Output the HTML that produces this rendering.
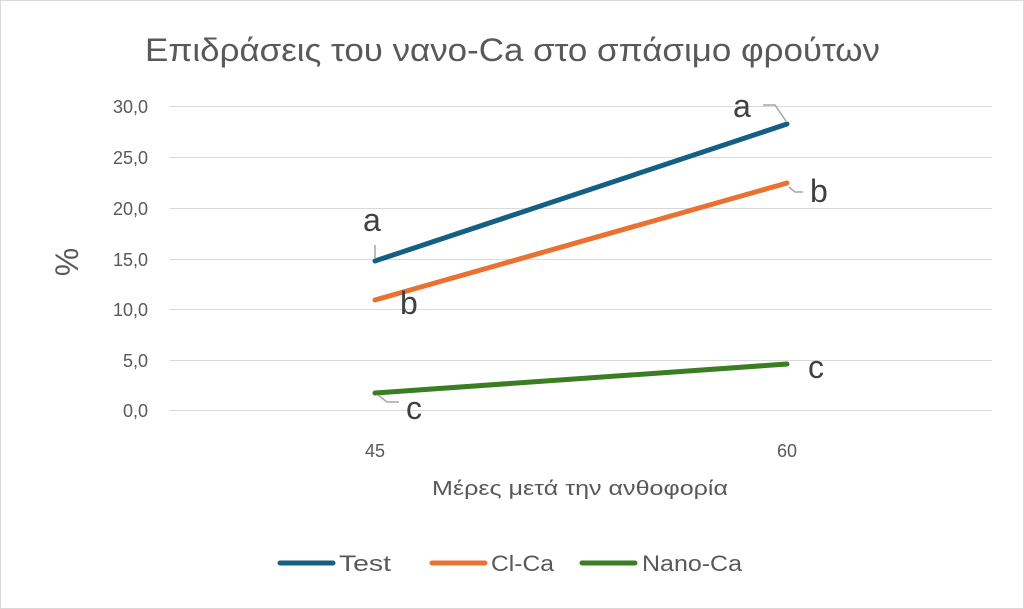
<!DOCTYPE html>
<html><head><meta charset="utf-8"><style>
html,body{margin:0;padding:0;background:#fff}
svg{display:block;font-family:"Liberation Sans","DejaVu Sans",sans-serif}
</style></head><body>
<svg width="1024" height="609" viewBox="0 0 1024 609">
<rect x="0.5" y="0.5" width="1023" height="608" fill="#fff" stroke="#d9d9d9"/>
<text x="145" y="61" font-size="32" fill="#595959" textLength="735" lengthAdjust="spacingAndGlyphs">Επιδράσεις του νανο-Ca στο σπάσιμο φρούτων</text>
<g stroke="#d9d9d9" stroke-width="1">
<line x1="170" x2="992" y1="106.5" y2="106.5"/>
<line x1="170" x2="992" y1="157.5" y2="157.5"/>
<line x1="170" x2="992" y1="208.5" y2="208.5"/>
<line x1="170" x2="992" y1="259.5" y2="259.5"/>
<line x1="170" x2="992" y1="309.5" y2="309.5"/>
<line x1="170" x2="992" y1="360.5" y2="360.5"/>
<line x1="170" x2="992" y1="410.5" y2="410.5"/>
</g>
<g font-size="18" fill="#595959" text-anchor="end">
<text x="148" y="113">30,0</text>
<text x="148" y="164">25,0</text>
<text x="148" y="215">20,0</text>
<text x="148" y="266">15,0</text>
<text x="148" y="316">10,0</text>
<text x="148" y="367">5,0</text>
<text x="148" y="417">0,0</text>
</g>
<text transform="translate(78,262) rotate(-90)" text-anchor="middle" font-size="32" fill="#595959">%</text>
<g font-size="18" fill="#595959" text-anchor="middle">
<text x="375" y="457">45</text>
<text x="787" y="457">60</text>
</g>
<text x="432" y="495" font-size="20" fill="#595959" textLength="296" lengthAdjust="spacingAndGlyphs">Μέρες μετά την ανθοφορία</text>
<g stroke-linecap="round" stroke-width="5" fill="none">
<line x1="375" y1="261" x2="787" y2="124" stroke="#156082"/>
<line x1="375" y1="300" x2="787" y2="183" stroke="#e97132"/>
<line x1="375" y1="393" x2="787" y2="364" stroke="#3b7d23"/>
</g>
<g stroke="#a6a6a6" stroke-width="1.5" fill="none">
<line x1="375" y1="258" x2="375" y2="245"/>
<polyline points="378,395 387,402 399,402"/>
<polyline points="786,121 775,105 763,105"/>
<polyline points="789,187 795,192 803,192"/>
</g>
<g font-size="32" fill="#404040">
<text x="363" y="231">a</text>
<text x="400" y="314">b</text>
<text x="406" y="419">c</text>
<text x="733" y="117">a</text>
<text x="810" y="202">b</text>
<text x="808" y="378">c</text>
</g>
<g stroke-width="5" stroke-linecap="round">
<line x1="280" y1="563" x2="333" y2="563" stroke="#156082"/>
<line x1="432" y1="563" x2="485" y2="563" stroke="#e97132"/>
<line x1="582" y1="563" x2="635" y2="563" stroke="#3b7d23"/>
</g>
<g font-size="22" fill="#595959">
<text x="339" y="571" textLength="52" lengthAdjust="spacingAndGlyphs">Test</text>
<text x="491" y="571" textLength="63" lengthAdjust="spacingAndGlyphs">Cl-Ca</text>
<text x="642" y="571" textLength="100" lengthAdjust="spacingAndGlyphs">Nano-Ca</text>
</g>
</svg>
</body></html>
